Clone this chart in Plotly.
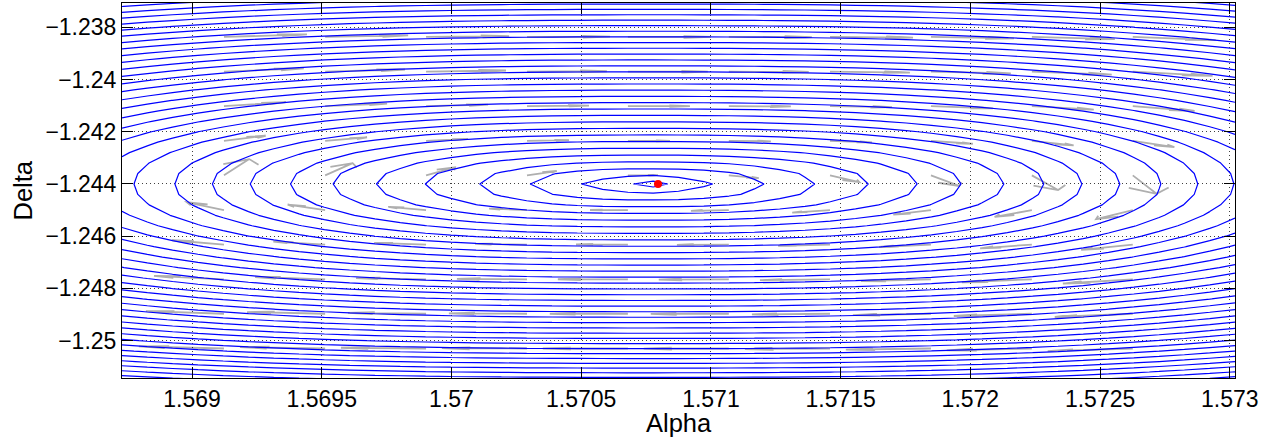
import numpy as np
import plotly.graph_objects as go

# ---------------- data ----------------
ALPHA_RANGE = [1.56873, 1.57302]
DELTA_RANGE = [-1.25143, -1.23707]

ALPHA_TICKS = [1.569, 1.5695, 1.570, 1.5705, 1.571, 1.5715, 1.572, 1.5725, 1.573]
ALPHA_TICK_TEXT = ["1.569", "1.5695", "1.57", "1.5705", "1.571", "1.5715", "1.572", "1.5725", "1.573"]
DELTA_TICKS = [-1.25, -1.248, -1.246, -1.244, -1.242, -1.24, -1.238]
DELTA_TICK_TEXT = ["\u22121.25", "\u22121.248", "\u22121.246", "\u22121.244",
                   "\u22121.242", "\u22121.24", "\u22121.238"]

# minimum marker
MIN_ALPHA = [1.570796]
MIN_DELTA = [-1.244]

# centre of the contour rings
RING_CENTER_ALPHA = 1.570754
RING_CENTER_DELTA = -1.244

# contour levels (ring index) and measured ring half-sizes (units of 1e-4)
CONTOUR_LEVELS = list(range(1, 41))
RING_HALF_WIDTH = [0.46, 2.54, 4.51, 6.44, 8.55, 10.44, 12.10, 13.76, 15.30, 16.76,
                   18.19, 19.81, 21.23, 22.62, 23.97, 25.28, 26.59, 27.86, 29.13, 30.37,
                   31.60, 32.79, 33.99, 35.18, 36.34, 37.50, 38.65, 39.77, 40.89, 42.00,
                   43.08, 44.16, 45.24, 46.32, 47.36, 48.40, 49.44, 50.48, 51.48, 52.49]
RING_HALF_HEIGHT_UP = [1.53, 3.18, 5.82, 8.46, 11.07, 13.67, 16.24, 18.77, 21.29, 23.78,
                       26.27, 28.73, 31.14, 33.55, 35.93, 38.30, 40.64, 42.93, 45.23, 47.49,
                       49.75, 51.97, 54.16, 56.34, 58.48, 60.63, 62.74, 64.80, 66.87, 68.90,
                       70.93, 72.92, 74.91, 76.87, 78.82, 80.77, 82.69, 84.60, 86.52, 88.43]
RING_HALF_HEIGHT_DOWN = [1.53, 3.45, 6.09, 8.73, 11.30, 13.86, 16.43, 18.92, 21.41, 23.86,
                         26.27, 28.69, 31.06, 33.40, 35.70, 37.96, 40.22, 42.44, 44.62, 46.80,
                         48.95, 51.05, 53.12, 55.15, 57.18, 59.17, 61.13, 63.08, 65.00, 66.87,
                         68.71, 70.51, 72.31, 74.07, 75.80, 77.52, 79.20, 80.89, 82.57, 84.26]
# ring shape: exponent of the horizontal term (2 = ellipse, larger = flatter top)
RING_SHAPE_EXPONENT = 2.6

# sampling grid of the contoured field
GRID_ALPHA_COUNT = 45
GRID_DELTA_STEP = 0.0004

# quiver (flow arrows) grid, measured arrow length per row (units of 1e-4 alpha)
# and how much of the contour tangent's vertical tilt the arrows show
QUIVER_ALPHA = [1.569123, 1.569513, 1.569902, 1.570291, 1.570680,
                1.571069, 1.571459, 1.571848, 1.572237, 1.572626]
QUIVER_DELTA = [-1.23837, -1.23970, -1.24102, -1.24235, -1.24367,
                -1.24500, -1.24632, -1.24765, -1.24897, -1.25030]
QUIVER_ROW_LENGTH = [3.20, 3.08, 2.39, 1.62, 1.16, 1.46, 2.00, 2.70, 3.01, 3.28]
QUIVER_TILT = 0.5

# ---------------- layout constants ----------------
W, H = 1284, 442
ML, MR, MT, MB = 122, 49, 3, 64
PW, PH = W - ML - MR, H - MT - MB
px_per_alpha = PW / (ALPHA_RANGE[1] - ALPHA_RANGE[0])
px_per_delta = PH / (DELTA_RANGE[1] - DELTA_RANGE[0])

ks = np.arange(0, len(CONTOUR_LEVELS) + 1, dtype=float)
RW = np.array([0.0] + RING_HALF_WIDTH)
RU = np.array([0.0] + RING_HALF_HEIGHT_UP)
RD = np.array([0.0] + RING_HALF_HEIGHT_DOWN)


def ring_level(a, d):
    """Continuous ring index of a point: the ring whose outline passes through it."""
    a = np.asarray(a, dtype=float)
    d = np.asarray(d, dtype=float)
    dx = (a - RING_CENTER_ALPHA) * 1e4
    dy = (d - RING_CENTER_DELTA) * 1e4
    lo = np.zeros_like(dx)
    hi = np.full_like(dx, ks[-1])
    for _ in range(48):
        mid = 0.5 * (lo + hi)
        A = np.maximum(np.interp(mid, ks, RW), 1e-12)
        B = np.maximum(np.where(dy >= 0, np.interp(mid, ks, RU), np.interp(mid, ks, RD)), 1e-12)
        g = np.abs(dx / A) ** RING_SHAPE_EXPONENT + (dy / B) ** 2
        inside = g <= 1.0
        hi = np.where(inside, mid, hi)
        lo = np.where(inside, lo, mid)
    return 0.5 * (lo + hi)


grid_alpha = np.linspace(ALPHA_RANGE[0], ALPHA_RANGE[1], GRID_ALPHA_COUNT)
n_lo = int(np.ceil((RING_CENTER_DELTA - DELTA_RANGE[0]) / GRID_DELTA_STEP))
n_hi = int(np.ceil((DELTA_RANGE[1] - RING_CENTER_DELTA) / GRID_DELTA_STEP))
grid_delta = RING_CENTER_DELTA + GRID_DELTA_STEP * np.arange(-n_lo, n_hi + 1)
GA, GD = np.meshgrid(grid_alpha, grid_delta)
Z = ring_level(GA, GD)

# ---------------- quiver arrows (along the rings, clockwise) ----------------
QA, QD = np.meshgrid(np.array(QUIVER_ALPHA), np.array(QUIVER_DELTA))
ha, hd = 1.0 / px_per_alpha, 1.0 / px_per_delta
dZdX = (ring_level(QA + ha, QD) - ring_level(QA - ha, QD)) / 2.0
dZdY = (ring_level(QA, QD + hd) - ring_level(QA, QD - hd)) / 2.0
tx, ty = dZdY, -dZdX * QUIVER_TILT
nrm = np.hypot(tx, ty) + 1e-12
Lpx = np.array(QUIVER_ROW_LENGTH)[:, None] * 1e-4 * px_per_alpha
U = Lpx * tx / nrm / px_per_alpha
V = Lpx * ty / nrm / px_per_delta

# arrows as one path (shaft + MATLAB-style head), drawn below the contour lines
alpha_h, beta_h = 0.33, 0.33
parts = []
for x0, y0, u, v in zip(QA.ravel(), QD.ravel(), U.ravel(), V.ravel()):
    xt, yt = x0 + u, y0 + v
    b1 = (xt - alpha_h * (u + beta_h * v), yt - alpha_h * (v - beta_h * u))
    b2 = (xt - alpha_h * (u - beta_h * v), yt - alpha_h * (v + beta_h * u))
    parts.append(f"M{x0:.8f},{y0:.8f}L{xt:.8f},{yt:.8f}")
    parts.append(f"M{b1[0]:.8f},{b1[1]:.8f}L{xt:.8f},{yt:.8f}L{b2[0]:.8f},{b2[1]:.8f}")
arrow_path = "".join(parts)

fig = go.Figure()
fig.add_trace(go.Contour(
    x=grid_alpha, y=grid_delta, z=Z,
    contours=dict(start=CONTOUR_LEVELS[0], end=CONTOUR_LEVELS[-1], size=1, coloring="lines"),
    colorscale=[[0, "#0000ff"], [1, "#0000ff"]],
    showscale=False,
    line=dict(width=1.2, smoothing=0),
    hoverinfo="skip",
))
fig.add_trace(go.Scatter(
    x=MIN_ALPHA, y=MIN_DELTA, mode="markers",
    marker=dict(color="#ff0000", size=8, line=dict(width=0)),
    showlegend=False,
))

fig.add_shape(type="path", path=arrow_path, xref="x", yref="y", layer="below",
              line=dict(color="rgb(175,175,175)", width=1.8))

FONT = "Liberation Sans, Arial, Helvetica, sans-serif"
axis_common = dict(
    showline=True, linecolor="black", linewidth=1, mirror="ticks",
    ticks="inside", ticklen=11, tickwidth=1, tickcolor="black",
    showgrid=True, gridcolor="rgba(0,0,0,0.75)", gridwidth=1, griddash="1px,3px",
    zeroline=False, tickfont=dict(family=FONT, size=23, color="black"),
)
fig.update_xaxes(range=ALPHA_RANGE, tickmode="array", tickvals=ALPHA_TICKS,
                 ticktext=ALPHA_TICK_TEXT, **axis_common)
fig.update_yaxes(range=DELTA_RANGE, tickmode="array", tickvals=DELTA_TICKS,
                 ticktext=DELTA_TICK_TEXT, **axis_common)

fig.update_layout(
    width=W, height=H,
    margin=dict(l=ML, r=MR, t=MT, b=MB),
    paper_bgcolor="white", plot_bgcolor="white",
    showlegend=False,
    font=dict(family=FONT, color="black"),
    annotations=[
        dict(text="Alpha", xref="paper", yref="paper", x=0.5, y=-(407 - (MT + PH)) / PH,
             xanchor="center", yanchor="top", showarrow=False,
             font=dict(family=FONT, size=25.5, color="black")),
        dict(text="Delta", xref="paper", yref="paper", x=-(ML - 22) / PW, y=0.5,
             xanchor="center", yanchor="middle", textangle=-90, showarrow=False,
             font=dict(family=FONT, size=25.5, color="black")),
    ],
)

fig.write_html("out.html")
